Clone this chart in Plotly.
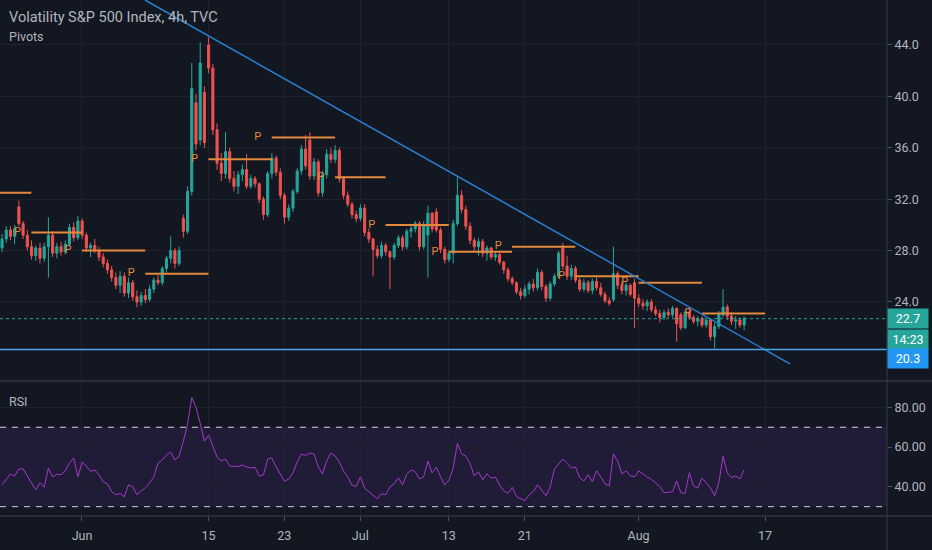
import plotly.graph_objects as go

# ---------------- data ----------------
bars_per_day = 3
first_bar_day = -6.32          # trading days relative to Jun 1

opens = [28.2,28.9,29.6,29.1,31.4,30.1,29.2,28.3,27.6,28.2,27.4,28.3,29.2,27.8,28.3,27.9,28.5,29.8,29.0,30.3,
         29.2,28.2,28.4,28.0,27.5,27.0,26.5,25.9,25.3,26.0,24.7,25.5,24.4,24.0,24.5,24.2,25.0,25.7,25.5,26.6,
         27.4,28.0,27.0,30.5,29.5,32.6,39.5,36.6,40.3,44.0,42.2,37.4,34.8,34.0,35.7,33.6,33.0,33.9,34.3,33.0,
         33.6,33.2,32.0,30.8,34.0,35.2,34.1,32.3,30.6,31.3,32.6,34.2,35.9,36.6,33.8,34.9,32.5,33.9,35.5,35.1,
         35.8,33.6,32.3,31.6,30.8,30.5,31.3,29.4,28.9,28.1,27.6,28.4,27.9,27.5,28.4,29.0,28.3,29.5,29.7,30.1,
         28.3,29.2,30.9,31.0,29.6,28.1,27.3,27.8,30.1,32.3,31.2,29.9,28.8,28.3,28.7,27.8,28.2,27.5,27.7,27.1,
         26.5,25.8,25.5,24.8,24.5,25.0,25.4,25.1,26.3,25.2,24.3,25.4,26.0,28.2,26.8,26.0,26.6,25.7,25.0,25.5,
         24.9,25.6,25.1,24.6,24.1,24.2,26.2,25.3,24.9,25.3,25.5,24.3,23.9,23.7,24.0,23.4,23.1,22.8,23.2,23.0,
         23.5,23.0,22.0,23.2,22.8,22.5,22.7,22.2,22.6,21.3,22.1,23.0,23.6,22.9,22.5,22.6,22.2]
highs = [29.3,29.9,29.9,30.0,31.9,30.3,29.6,28.8,28.4,28.6,28.6,30.6,29.5,28.6,28.7,28.8,30.1,30.2,30.7,30.5,
         29.4,28.6,28.9,28.3,27.8,27.3,26.8,26.3,26.4,26.3,25.9,25.7,24.9,24.8,25.0,25.3,25.9,26.1,26.8,27.6,
         29.1,28.2,28.3,30.8,33.0,42.6,40.2,44.2,40.8,44.6,42.5,37.9,35.6,37.2,36.0,34.2,34.2,34.7,35.5,33.9,
         33.8,33.3,32.2,34.2,35.6,35.4,34.4,32.5,31.6,32.8,34.4,36.2,37.0,37.2,35.2,35.1,34.2,35.9,36.0,36.2,
         36.0,33.8,32.6,31.8,31.1,31.6,31.6,29.7,29.0,28.4,28.7,28.6,28.0,28.6,29.2,29.2,29.7,30.0,30.3,30.3,
         30.3,31.5,31.0,31.3,29.8,28.3,28.0,30.4,33.7,32.7,31.5,30.2,29.0,29.0,28.9,28.4,28.3,27.9,27.8,27.2,
         26.7,26.0,25.6,25.1,25.3,25.6,25.8,26.6,26.5,25.4,25.6,26.2,28.0,28.6,27.6,26.9,26.8,25.9,25.8,25.7,
         25.8,25.9,25.5,24.8,24.4,28.3,26.4,25.6,25.5,25.4,25.8,24.6,24.2,24.2,24.2,23.7,23.4,23.4,23.5,23.7,
         23.6,23.2,23.4,23.6,23.0,22.9,22.9,22.8,22.7,22.4,23.3,25.0,23.8,23.2,22.9,22.8,22.9]
lows = [27.9,28.6,28.8,28.5,29.9,28.9,28.0,27.3,27.2,27.0,27.1,25.9,27.5,27.4,27.6,27.7,28.3,28.7,28.8,28.9,
        27.9,27.5,27.8,27.2,26.7,26.2,25.6,25.0,24.7,24.4,24.3,24.1,23.6,23.7,23.9,24.0,24.7,25.3,25.3,26.3,
        27.0,26.6,26.8,29.0,29.3,32.3,35.8,36.2,36.0,41.8,37.0,34.3,33.4,33.6,33.3,32.6,32.4,33.4,32.8,32.8,
        32.9,31.7,30.4,30.6,33.6,33.8,32.0,30.1,30.3,31.0,32.4,33.9,34.3,33.5,33.5,32.2,32.2,33.6,34.8,34.8,
        33.3,32.0,31.4,30.5,30.2,30.3,29.1,28.6,26.0,27.4,27.4,27.6,25.0,27.3,28.2,28.0,28.1,29.0,29.4,28.0,
        28.1,25.9,29.4,29.4,27.8,27.0,27.1,27.0,29.9,30.9,29.6,28.5,28.0,27.6,27.5,27.2,27.3,27.2,26.9,26.2,
        25.6,25.3,24.6,24.2,24.3,24.6,24.8,24.9,24.9,24.0,24.1,25.2,25.8,26.5,25.7,25.7,25.5,24.8,24.8,24.7,
        24.6,24.9,24.4,23.9,23.7,24.0,25.0,24.6,24.5,24.4,22.0,23.6,23.4,23.3,23.2,22.9,22.4,22.6,22.8,22.8,
        20.9,21.8,21.9,22.6,22.3,22.1,22.0,22.0,21.0,20.4,21.9,22.8,22.6,22.2,21.9,22.0,21.8]
closes = [28.9,29.6,29.1,29.7,30.1,29.2,28.3,27.6,28.2,27.4,28.3,29.2,27.8,28.3,27.9,28.5,29.8,29.0,30.3,29.2,
          28.2,28.4,28.0,27.5,27.0,26.5,25.9,25.3,26.0,24.7,25.5,24.4,24.0,24.5,24.2,25.0,25.7,25.5,26.6,27.4,
          28.0,27.0,28.0,29.5,32.6,40.6,36.3,42.6,36.4,42.2,37.4,34.8,34.0,35.7,33.6,33.0,33.9,34.3,33.0,33.6,
          33.2,32.0,30.8,34.0,35.2,34.1,32.3,30.6,31.3,32.6,34.2,35.9,34.6,33.8,34.9,32.5,33.9,35.5,35.1,35.8,
          33.6,32.3,31.6,30.8,30.5,31.3,29.4,28.9,28.1,27.6,28.4,27.9,27.5,28.4,29.0,28.3,29.5,29.7,30.1,28.3,
          30.0,30.9,29.7,29.6,28.1,27.3,27.8,30.1,32.3,31.2,29.9,28.8,28.3,28.7,27.8,28.2,27.5,27.7,27.1,26.5,
          25.8,25.5,24.8,24.5,25.0,25.4,25.1,26.3,25.2,24.3,25.4,26.0,27.8,26.8,26.0,26.6,25.7,25.0,25.5,24.9,
          25.6,25.1,24.6,24.1,23.9,26.2,25.3,24.9,25.3,24.6,24.3,23.9,23.7,24.0,23.4,23.1,22.8,23.2,23.0,23.5,
          22.3,22.0,23.2,22.8,22.5,22.7,22.2,22.6,21.3,22.1,23.0,23.6,22.9,22.5,22.6,22.2,22.7]
rsi = [41,44,46.5,45.5,49,49,45.5,42,38.5,42,39.8,49.5,45,46.3,46.1,48,52,54.5,45,52.5,
       50.5,47.8,48.5,46,42.5,41.5,37.5,36,36.7,35,41,40,36,38,39.5,42,45,52,53.5,56,
       57.5,53.5,55.5,63,71.5,85,80,72,63,66,60,55,53,54,50.5,50.5,50.2,51,50,49.5,
       49.8,45.5,46,54,54.5,50,46,42.8,44,47,52.5,56.5,55.8,57,56.5,50,46.5,53,57,55.5,
       52.5,48,44.8,40.8,40.2,45,39.3,37.5,35.8,34,36.5,36,40,41.5,44.5,41,46.5,48.5,47.5,44,
       45,53,47,50,45.1,40.9,43.5,49.3,61.9,56.6,55.5,51.8,45.5,47.5,43.5,46.5,44.4,44.9,40.9,38,
       36.7,39.8,35,34,33,35.9,37.6,41,38,35.5,40,49,51.5,54,51.8,49.5,50,44.5,43,46,
       42.6,48.1,45,41.5,40.5,56.6,53,46.5,48,45.5,45.1,48,46.5,44.9,43.8,42,40.1,37,37.3,37.5,
       43,37,36.7,47.1,40.5,39.3,44.4,42,39.5,35.5,42,55.4,47,44.6,45.5,44,48.5]

# weekly pivot points (start/end in trading days from Jun 1)
pivot_starts = [-9, -4, 0, 5, 10, 15, 20, 24, 29, 34, 39, 44, 49]
pivot_ends = [-4, 0, 5, 10, 15, 20, 24, 29, 34, 39, 44, 49, 54]
pivot_values = [32.5, 29.4, 28.0, 26.2, 35.1, 36.8, 33.7, 30.0, 27.9, 28.3, 26.0, 25.5, 23.1]

# drawings
trend_days = [4.98, 55.97]
trend_prices = [47.5, 19.18]
support_level = 20.3
countdown = "14:23"

tick_days = [0, 10, 16, 22, 29, 35, 44, 54]
tick_labels = ["Jun", "15", "23", "Jul", "13", "21", "Aug", "17"]
price_ticks = [24, 28, 32, 36, 40, 44]
rsi_ticks = [40, 60, 80]
rsi_upper, rsi_lower = 70, 30

# ---------------- styling ----------------
BG = "#131722"
GRID = "#1e222d"
TXT = "#b2b5be"
UP = "#26a69a"
DN = "#ef5350"
PIV = "#e48a3c"
FONT = "Roboto"
X_RANGE = [-6.48, 63.64]

days = [first_bar_day + i / bars_per_day for i in range(len(closes))]

fig = go.Figure()

fig.add_trace(go.Candlestick(
    x=days, open=opens, high=highs, low=lows, close=closes,
    increasing=dict(line=dict(color=UP, width=1), fillcolor=UP),
    decreasing=dict(line=dict(color=DN, width=1), fillcolor=DN),
    whiskerwidth=0, xaxis="x", yaxis="y", hoverinfo="skip", showlegend=False))

# pivots
px_, py_ = [], []
for s, e, v in zip(pivot_starts, pivot_ends, pivot_values):
    px_ += [s, e, None]
    py_ += [v, v, None]
fig.add_trace(go.Scatter(x=px_, y=py_, mode="lines", line=dict(color=PIV, width=2),
                         xaxis="x", yaxis="y", hoverinfo="skip", showlegend=False))
lab_x = [s - 1.1 for s in pivot_starts if s - 1.1 > X_RANGE[0]]
lab_y = [v for s, v in zip(pivot_starts, pivot_values) if s - 1.1 > X_RANGE[0]]
fig.add_trace(go.Scatter(x=lab_x, y=lab_y, mode="text", text=["P"] * len(lab_x),
                         textfont=dict(color=PIV, size=11, family=FONT),
                         xaxis="x", yaxis="y", hoverinfo="skip", showlegend=False))

# trend line
fig.add_trace(go.Scatter(x=trend_days, y=trend_prices, mode="lines",
                         line=dict(color="#2a7fd0", width=1.5),
                         xaxis="x", yaxis="y", hoverinfo="skip", showlegend=False))

# RSI
fig.add_trace(go.Scatter(x=days, y=rsi, mode="lines", line=dict(color="#a03ac8", width=1),
                         xaxis="x2", yaxis="y2", hoverinfo="skip", showlegend=False))

last = closes[-1]
shapes = [
    dict(type="rect", xref="paper", yref="y2", x0=0, x1=1, y0=rsi_lower, y1=rsi_upper,
         fillcolor="rgba(126,60,200,0.13)", line=dict(width=0), layer="below"),
    dict(type="line", xref="paper", yref="y2", x0=0, x1=1, y0=rsi_upper, y1=rsi_upper,
         line=dict(color="#d0d2da", width=1, dash="6px,6px")),
    dict(type="line", xref="paper", yref="y2", x0=0, x1=1, y0=rsi_lower, y1=rsi_lower,
         line=dict(color="#d0d2da", width=1, dash="6px,6px")),
    dict(type="line", xref="paper", yref="y", x0=0, x1=1, y0=last, y1=last,
         line=dict(color=UP, width=1, dash="dot")),
    dict(type="line", xref="paper", yref="y", x0=0, x1=1, y0=support_level, y1=support_level,
         line=dict(color="#4ea5ea", width=1.5)),
    # pane separators
    dict(type="line", xref="paper", yref="paper", x0=0, x1=1.06, y0=0.2616, y1=0.2616,
         line=dict(color="#2a2e39", width=2)),
    dict(type="line", xref="paper", yref="paper", x0=0, x1=1.06, y0=0, y1=0,
         line=dict(color="#2a2e39", width=2)),
    dict(type="line", xref="paper", yref="paper", x0=1, x1=1, y0=-0.07, y1=1,
         line=dict(color="#363a45", width=1)),
]

annotations = [
    dict(text="Volatility S&P 500 Index, 4h, TVC", xref="paper", yref="paper", x=0, y=1,
         xanchor="left", yanchor="top", xshift=7, yshift=-7, showarrow=False,
         font=dict(color=TXT, size=14.5, family=FONT)),
    dict(text="Pivots", xref="paper", yref="paper", x=0, y=1,
         xanchor="left", yanchor="top", xshift=7, yshift=-27, showarrow=False,
         font=dict(color=TXT, size=12.5, family=FONT)),
    dict(text="RSI", xref="paper", yref="paper", x=0, y=0.2597,
         xanchor="left", yanchor="top", xshift=7, yshift=-10, showarrow=False,
         font=dict(color=TXT, size=12.5, family=FONT)),
    dict(text=f"{last:.1f}", xref="paper", yref="y", x=1, y=last, xanchor="left", yanchor="middle",
         showarrow=False, bgcolor=UP, borderpad=2, width=36, align="center",
         font=dict(color="#ffffff", size=12.5, family=FONT)),
    dict(text=countdown, xref="paper", yref="y", x=1, y=last, xanchor="left", yanchor="middle",
         yshift=-21, showarrow=False, bgcolor=UP, borderpad=2, width=36, align="center",
         font=dict(color="#ffffff", size=12.5, family=FONT)),
    dict(text=f"{support_level:.1f}", xref="paper", yref="y", x=1, y=support_level,
         xanchor="left", yanchor="middle", yshift=-9, showarrow=False, bgcolor="#2196f3",
         borderpad=2, width=36, align="center", font=dict(color="#ffffff", size=12.5, family=FONT)),
]

axis_common = dict(showgrid=True, gridcolor=GRID, gridwidth=1, zeroline=False,
                   tickfont=dict(color=TXT, size=12.5, family=FONT))

fig.update_layout(
    width=932, height=550, paper_bgcolor=BG, plot_bgcolor=BG,
    margin=dict(l=0, r=45, t=0, b=34),
    showlegend=False, hovermode=False,
    xaxis=dict(domain=[0, 1], range=X_RANGE, anchor="y", tickvals=tick_days,
               showticklabels=False, ticks="", rangeslider=dict(visible=False), **axis_common),
    xaxis2=dict(domain=[0, 1], range=X_RANGE, anchor="y2", matches="x",
                tickvals=tick_days, ticktext=tick_labels, ticks="outside", ticklen=4,
                ticklabelstandoff=4,
                tickcolor="#50535e", showline=False, **axis_common),
    yaxis=dict(domain=[0.2636, 1], range=[17.93, 47.5], side="right", tickvals=price_ticks,
               tickformat=".1f", ticks="outside", ticklen=4, tickcolor="#50535e",
               anchor="x", **axis_common),
    yaxis2=dict(domain=[0, 0.2597], range=[25.3, 92.8], side="right", tickvals=rsi_ticks,
                tickformat=".2f", ticks="outside", ticklen=4, tickcolor="#50535e",
                anchor="x2", **axis_common),
    shapes=shapes, annotations=annotations,
)

fig.write_html("out.html", config=dict(displayModeBar=False, staticPlot=True),
               post_script="document.body.style.margin='0';document.body.style.overflow='hidden';document.body.style.background='#131722';")
